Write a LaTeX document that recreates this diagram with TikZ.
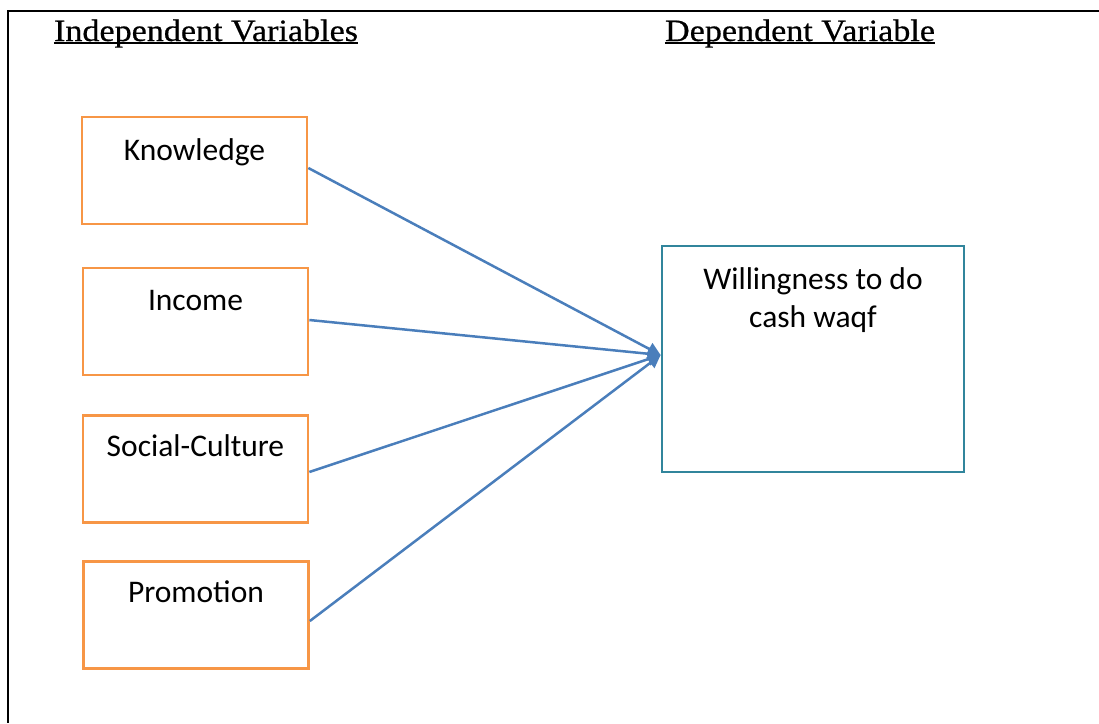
\documentclass[tikz,border=0pt]{standalone}
\usepackage{fontspec}
\setmainfont{Carlito}
\newfontfamily\hdfont[FakeStretch=1.1,FakeBold=0.6]{Liberation Serif}
\usetikzlibrary{arrows.meta}
\definecolor{boxorange}{HTML}{F79646}
\definecolor{linkblue}{HTML}{4A7EBB}
\definecolor{boxteal}{HTML}{31859C}
\tikzset{
  ivbox/.style={draw=boxorange, line width=2.7pt, minimum width=225pt, minimum height=107pt, inner sep=0pt},
  dvbox/.style={draw=boxteal, line width=2.7pt, minimum width=302pt, minimum height=226pt, inner sep=0pt},
  boxtext/.style={anchor=base, inner sep=0pt, font=\fontsize{31.5}{37.8}\selectfont, align=center},
  header/.style={anchor=base, inner sep=0pt, font=\hdfont\fontsize{31}{37}\selectfont},
  uline/.style={line width=1.8pt, black},
  link/.style={draw=linkblue, line width=2.5pt, -{Triangle[length=13pt,width=13pt]}},
  frame/.style={line width=2.8pt, black}
}
\begin{document}
\begin{tikzpicture}[x=1pt,y=-1pt]
\useasboundingbox (0,0) rectangle (1099,723);
% frame
\draw[frame] (1099,11) -- (8,11) -- (8,723);
% headers
\node[header] (h1) at (206,41) {Independent Variables};
\node[header] (h2) at (800,41) {Dependent Variable};
\draw[uline] ([yshift=-2.2pt]h1.base west) -- ([yshift=-2.2pt]h1.base east);
\draw[uline] ([yshift=-2.2pt]h2.base west) -- ([yshift=-2.2pt]h2.base east);
% independent boxes
\node[ivbox] (k) at (194.5,170.5) {};
\node[ivbox] (i) at (195.5,321.5) {};
\node[ivbox] (s) at (195.5,469) {};
\node[ivbox] (p) at (196,615) {};
\node[boxtext] (kt) at ([yshift=-44.5pt]k.north) {Knowledge};
\node[boxtext] (it) at ([yshift=-43.5pt]i.north) {Income};
\node[boxtext] (st) at ([yshift=-42.5pt]s.north) {Social-Culture};
\node[boxtext] (pt) at ([yshift=-42.5pt]p.north) {Promotion};
% dependent box
\node[dvbox] (d) at (813,359) {};
\node[boxtext, anchor=north] (dt) at ([yshift=-22.5pt]d.north) {Willingness to do\\cash waqf};
\coordinate (tip) at ([yshift=4pt]d.west);
% connectors
\draw[link] ([yshift=2.5pt]k.east) -- (tip);
\draw[link] ([yshift=1.5pt]i.east) -- (tip);
\draw[link] ([yshift=-3pt]s.east) -- (tip);
\draw[link] ([yshift=-6pt]p.east) -- (tip);
\end{tikzpicture}
\end{document}
